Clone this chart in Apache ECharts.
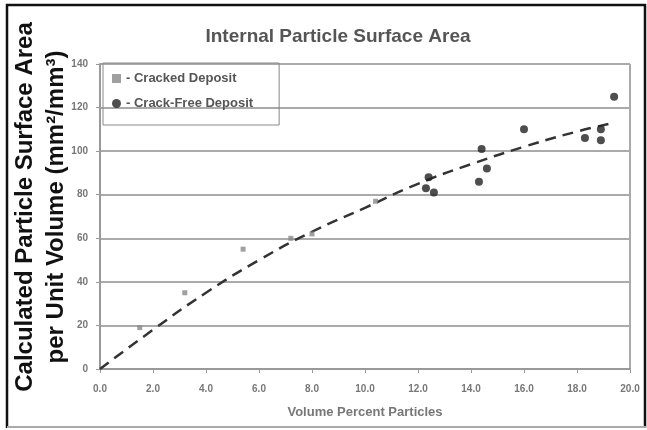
<!DOCTYPE html>
<html>
<head>
<meta charset="utf-8">
<script src="https://cdn.jsdelivr.net/npm/echarts@6/dist/echarts.min.js"></script>
<style>
  html, body { margin: 0; padding: 0; background: #fff; }
  #main { width: 647px; height: 430px; }
</style>
</head>
<body>
<div id="main"></div>
<script>
// points
const crackedX = [1.5, 3.2, 5.4, 7.2, 8.0, 10.4]
const crackedY = [19, 35, 55, 60, 62, 77]
const crackFreeX = [12.3, 12.4, 12.6, 14.3, 14.4, 14.6, 16.0, 18.3, 18.9, 18.9, 19.4]
const crackFreeY = [83, 88, 81, 86, 101, 92, 110, 106, 105, 110, 125]
// dashed trend curve
const trendX = [0, 2, 4, 6, 8, 10, 12, 14, 16, 18, 19.4]
const trendY = [0, 18, 35, 50, 63, 74, 85, 94, 102, 109, 113]

const zip = (xs, ys) => xs.map((x, i) => [x, ys[i]])

const chart = echarts.init(document.getElementById('main'))
const labelStyle = { color: '#777', fontSize: 10, fontWeight: 'bold', fontFamily: 'Liberation Sans' }

const option = {
  animation: false,
  title: {
    text: 'Internal Particle Surface Area',
    left: 333,
    top: 22,
    textAlign: 'center',
    textStyle: { color: '#555', fontSize: 19, fontWeight: 'bold', fontFamily: 'Liberation Sans' }
  },
  legend: {
    orient: 'vertical',
    left: 103,
    top: 63,
    itemWidth: 9,
    itemHeight: 9,
    itemGap: 12,
    padding: [9, 26, 15, 9],
    borderColor: '#888',
    borderWidth: 1,
    formatter: '- {name}',
    textStyle: { color: '#555', fontSize: 13, fontWeight: 'bold', fontFamily: 'Liberation Sans' },
    data: [
      { name: 'Cracked Deposit', icon: 'rect' },
      { name: 'Crack-Free Deposit', icon: 'circle' }
    ]
  },
  grid: { left: 100, right: 17, top: 64, bottom: 61 },
  xAxis: {
    type: 'value',
    min: 0,
    max: 20,
    interval: 2,
    name: 'Volume Percent Particles',
    nameLocation: 'middle',
    nameGap: 37,
    nameTextStyle: { color: '#777', fontSize: 13, fontWeight: 'bold', fontFamily: 'Liberation Sans' },
    axisLine: { lineStyle: { color: '#999', width: 2 } },
    axisTick: { show: true, length: 4, lineStyle: { color: '#999' } },
    axisLabel: Object.assign({ formatter: v => v.toFixed(1), margin: 15 }, labelStyle),
    splitLine: { show: false }
  },
  yAxis: {
    type: 'value',
    min: 0,
    max: 140,
    interval: 20,
    axisLine: { show: true, lineStyle: { color: '#999', width: 2 } },
    axisTick: { show: true, length: 4, lineStyle: { color: '#999' } },
    axisLabel: Object.assign({ margin: 12 }, labelStyle),
    splitLine: { lineStyle: { color: '#aaa', width: 2 } }
  },
  graphic: [
    { type: 'line', shape: { x1: 6, y1: 5, x2: 646, y2: 5 }, style: { stroke: '#111', lineWidth: 2.5 } },
    { type: 'line', shape: { x1: 7, y1: 4, x2: 7, y2: 428 }, style: { stroke: '#111', lineWidth: 2.5 } },
    { type: 'line', shape: { x1: 645, y1: 4, x2: 645, y2: 428 }, style: { stroke: '#111', lineWidth: 2.5 } },
    { type: 'line', shape: { x1: 7, y1: 427, x2: 646, y2: 427 }, style: { stroke: '#aaa', lineWidth: 2 } },
    { type: 'line', shape: { x1: 630, y1: 64, x2: 630, y2: 369 }, style: { stroke: '#aaa', lineWidth: 2 } },
    {
      type: 'text',
      x: 41,
      y: 207,
      rotation: Math.PI / 2,
      style: {
        text: 'Calculated Particle Surface Area\nper Unit Volume (mm²/mm³)',
        fill: '#111',
        font: 'bold 24px "Liberation Sans"',
        lineHeight: 31,
        textAlign: 'center',
        textVerticalAlign: 'middle'
      }
    }
  ],
  series: [
    {
      name: 'Trend',
      type: 'line',
      data: zip(trendX, trendY),
      smooth: true,
      showSymbol: false,
      lineStyle: { color: '#333', width: 2.5, type: [11, 7] },
      z: 1
    },
    {
      name: 'Cracked Deposit',
      type: 'scatter',
      symbol: 'rect',
      symbolSize: 5,
      itemStyle: { color: '#888' },
      data: zip(crackedX, crackedY),
      z: 3
    },
    {
      name: 'Crack-Free Deposit',
      type: 'scatter',
      symbol: 'circle',
      symbolSize: 8,
      itemStyle: { color: '#222' },
      data: zip(crackFreeX, crackFreeY),
      z: 3
    }
  ]
}
option && chart.setOption(option)
</script>
</body>
</html>
